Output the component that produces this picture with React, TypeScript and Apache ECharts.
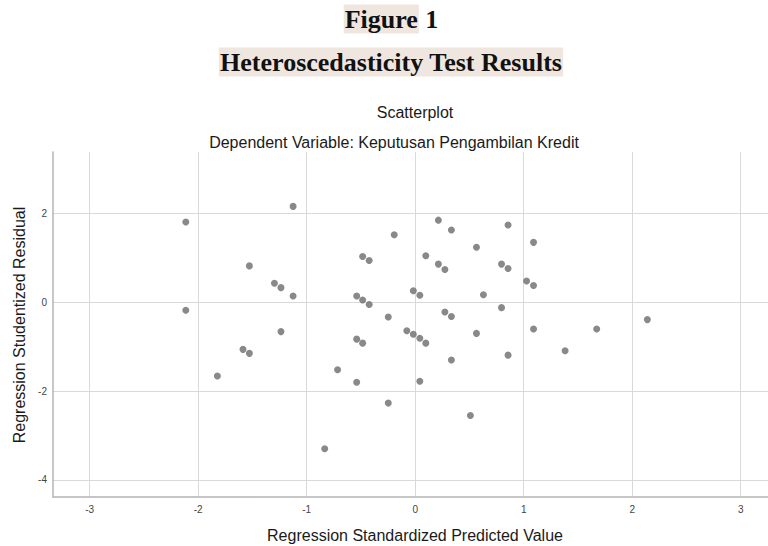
import React, { useEffect, useRef } from "react";
import * as echarts from "echarts";

const xValues: number[] = [
  -1.125, -2.114, 0.214, 0.856, 0.334, -0.193, 1.091, 0.565, -0.484, -0.424,
  0.098, 0.214, 0.274, 0.796, 0.856, -1.528, -1.297, -1.237, -1.125, -0.539,
  -0.484, -0.424, -0.017, 0.043, 0.629, 1.027, 1.091, -2.114, 0.796, -0.248,
  0.274, 0.334, 2.14, -1.237, 1.091, 1.673, -0.077, -0.017, 0.043, 0.098,
  0.565, -0.539, -0.484, -1.587, -1.528, 1.382, 0.334, 0.856, -1.823, -0.715,
  -0.539, 0.043, -0.248, 0.509, -0.834,
];
const yValues: number[] = [
  2.16, 1.81, 1.85, 1.74, 1.63, 1.52, 1.35, 1.24, 1.03, 0.94,
  1.05, 0.86, 0.74, 0.86, 0.76, 0.82, 0.43, 0.33, 0.14, 0.14,
  0.05, -0.05, 0.26, 0.16, 0.17, 0.48, 0.38, -0.18, -0.12, -0.33,
  -0.22, -0.32, -0.39, -0.66, -0.6, -0.6, -0.64, -0.72, -0.81, -0.92,
  -0.7, -0.83, -0.92, -1.06, -1.15, -1.09, -1.3, -1.19, -1.66, -1.52,
  -1.8, -1.78, -2.27, -2.55, -3.3,
];
const xTicks: number[] = [-3, -2, -1, 0, 1, 2, 3];
const yTicks: number[] = [-4, -2, 0, 2];

const mainTitle = "Heteroscedasticity Test Results";
const chartTitle = "Scatterplot";
const chartSubtitle = "Dependent Variable: Keputusan Pengambilan Kredit";
const xAxisTitle = "Regression Standardized Predicted Value";
const yAxisTitle = "Regression Studentized Residual";

const SERIF = "'Liberation Serif', 'Times New Roman', serif";
const SANS = "'Liberation Sans', Arial, sans-serif";

export default function App() {
  const ref = useRef<HTMLDivElement>(null);
  useEffect(() => {
    if (!ref.current) return;
    const chart = echarts.init(ref.current, null, { renderer: "svg" });
    const data = xValues.map((x, i) => [x, yValues[i]]);
    chart.setOption({
      animation: false,
      backgroundColor: "#ffffff",
      grid: { left: 53, right: 0, top: 152, bottom: 49, containLabel: false },
      xAxis: {
        type: "value",
        min: -3.338,
        max: 3.252,
        axisLine: { show: true, onZero: false, lineStyle: { color: "#b4b4b4", width: 1.5 } },
        axisTick: { show: false, customValues: xTicks },
        axisLabel: {
          customValues: xTicks,
          color: "#444",
          fontSize: 10,
          fontFamily: SANS,
          margin: 7,
        },
        splitLine: { show: true, lineStyle: { color: "#d9d9d9", width: 1 } },
      },
      yAxis: {
        type: "value",
        min: -4.385,
        max: 3.385,
        axisLine: { show: true, onZero: false, lineStyle: { color: "#b4b4b4", width: 1.5 } },
        axisTick: { show: false, customValues: yTicks },
        axisLabel: {
          customValues: yTicks,
          color: "#444",
          fontSize: 10,
          fontFamily: SANS,
          margin: 6,
        },
        splitLine: { show: true, lineStyle: { color: "#d9d9d9", width: 1 } },
      },
      series: [
        {
          type: "scatter",
          data,
          symbol: "circle",
          symbolSize: 7,
          itemStyle: { color: "#6b6b6b" },
        },
      ],
      graphic: [
        {
          type: "text",
          x: 391,
          y: 19,
          style: {
            text: "{a|Figure} 1",
            fill: "#111",
            font: `bold 26px ${SERIF}`,
            align: "center",
            verticalAlign: "middle",
            rich: {
              a: {
                backgroundColor: "#efe6df",
                font: `bold 26px ${SERIF}`,
                fill: "#111",
                padding: [2, 1, 1, 1],
              },
            },
          },
        },
        {
          type: "text",
          x: 391,
          y: 62,
          style: {
            text: mainTitle,
            fill: "#111",
            font: `bold 26px ${SERIF}`,
            align: "center",
            verticalAlign: "middle",
            backgroundColor: "#efe6df",
            padding: [2, 1, 1, 1],
          },
        },
        {
          type: "text",
          x: 415,
          y: 112,
          style: {
            text: chartTitle,
            fill: "#1a1a1a",
            font: `16px ${SANS}`,
            align: "center",
            verticalAlign: "middle",
          },
        },
        {
          type: "text",
          x: 394,
          y: 142,
          style: {
            text: chartSubtitle,
            fill: "#1a1a1a",
            font: `16px ${SANS}`,
            align: "center",
            verticalAlign: "middle",
          },
        },
        {
          type: "text",
          x: 415,
          y: 535,
          style: {
            text: xAxisTitle,
            fill: "#1a1a1a",
            font: `16px ${SANS}`,
            align: "center",
            verticalAlign: "middle",
          },
        },
        {
          type: "text",
          x: 19,
          y: 325,
          rotation: Math.PI / 2,
          style: {
            text: yAxisTitle,
            fill: "#1a1a1a",
            font: `16px ${SANS}`,
            align: "center",
            verticalAlign: "middle",
          },
        },
      ],
    });
    return () => chart.dispose();
  }, []);
  return (
    <div
      ref={ref}
      style={{ position: "fixed", left: 0, top: 0, width: 768, height: 546 }}
    />
  );
}
